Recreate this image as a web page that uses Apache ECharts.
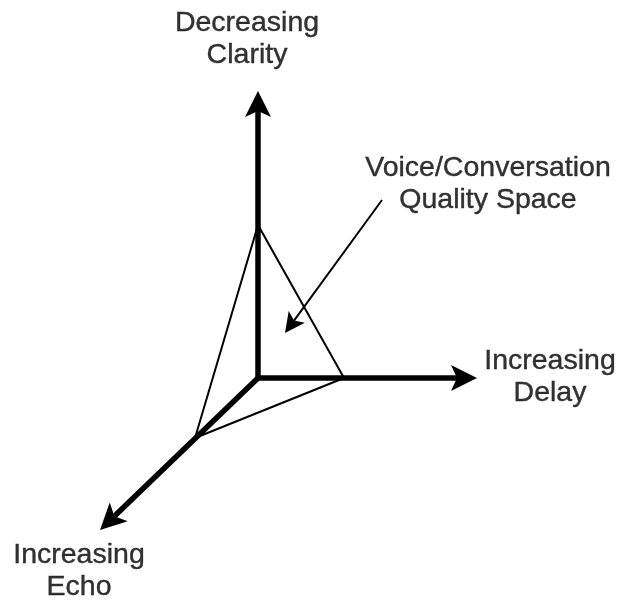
<!DOCTYPE html>
<html>
<head>
<meta charset="utf-8">
<script src="https://cdn.jsdelivr.net/npm/echarts@6/dist/echarts.min.js"></script>
<style>
  html, body { margin: 0; padding: 0; background: #fff; }
  #charts { width: 624px; height: 602px; }
</style>
</head>
<body>
<div id="charts"></div>
<script>
// diagram units: origin where the three axes meet, x to the right, y up
const axisNames = ['Decreasing\nClarity', 'Increasing\nDelay', 'Increasing\nEcho'];
const axisTips = [[0, 287], [219, 0], [-158, -152]];
const labelPoints = [[-11, 339], [292, 1], [-179, -193]];

const spaceCorners = [[0, 153], [86, 0], [-63, -60], [0, 153]];

const noteText = 'Voice/Conversation\nQuality Space';
const notePoint = [230, 194];
const noteFrom = [124, 178];
const noteTip = [27, 45];

const headPath = 'path://M0,0 L12,26 L0,20 L-12,26 Z';
const bigHead = 26;
const smallHead = 20;

// pull the shaft end back so the arrow head tip lands on the tip point
function shaftEnd(from, tip, size) {
    let dx = tip[0] - from[0], dy = tip[1] - from[1];
    let len = Math.sqrt(dx * dx + dy * dy);
    return [tip[0] - dx / len * size / 2, tip[1] - dy / len * size / 2];
}

let axisLines = axisTips.map(tip => {
    return { coords: [[0, 0], shaftEnd([0, 0], tip, bigHead)] };
});

let textData = axisNames.map((name, i) => {
    return { name: name, value: labelPoints[i] };
});
textData.push({ name: noteText, value: notePoint });

let myChart = echarts.init(document.getElementById('charts'));
myChart.setOption({
    backgroundColor: '#fff',
    animation: false,
    grid: { left: 0, right: 0, top: 0, bottom: 0 },
    xAxis: { type: 'value', min: -258, max: 366, show: false },
    yAxis: { type: 'value', min: -224, max: 378, show: false },
    series: [
        {
            type: 'line',
            data: spaceCorners,
            symbol: 'none',
            silent: true,
            z: 1,
            lineStyle: { color: '#000', width: 2 }
        },
        {
            type: 'lines',
            coordinateSystem: 'cartesian2d',
            data: axisLines,
            symbol: ['none', headPath],
            symbolSize: [0, bigHead],
            silent: true,
            z: 3,
            lineStyle: { color: '#000', width: 5.5, opacity: 1, curveness: 0 }
        },
        {
            type: 'lines',
            coordinateSystem: 'cartesian2d',
            data: [{ coords: [noteFrom, shaftEnd(noteFrom, noteTip, smallHead)] }],
            symbol: ['none', headPath],
            symbolSize: [0, smallHead],
            silent: true,
            z: 3,
            lineStyle: { color: '#000', width: 2, opacity: 1, curveness: 0 }
        },
        {
            type: 'scatter',
            data: textData,
            symbolSize: 0,
            silent: true,
            z: 4,
            label: {
                show: true,
                position: 'inside',
                formatter: '{b}',
                color: '#000',
                fontSize: 28.5,
                lineHeight: 32,
                align: 'center',
                verticalAlign: 'middle',
                textBorderColor: '#000',
                textBorderWidth: 0.4,
                fontFamily: '"Liberation Sans", Arial, sans-serif'
            }
        }
    ]
});
</script>
</body>
</html>
